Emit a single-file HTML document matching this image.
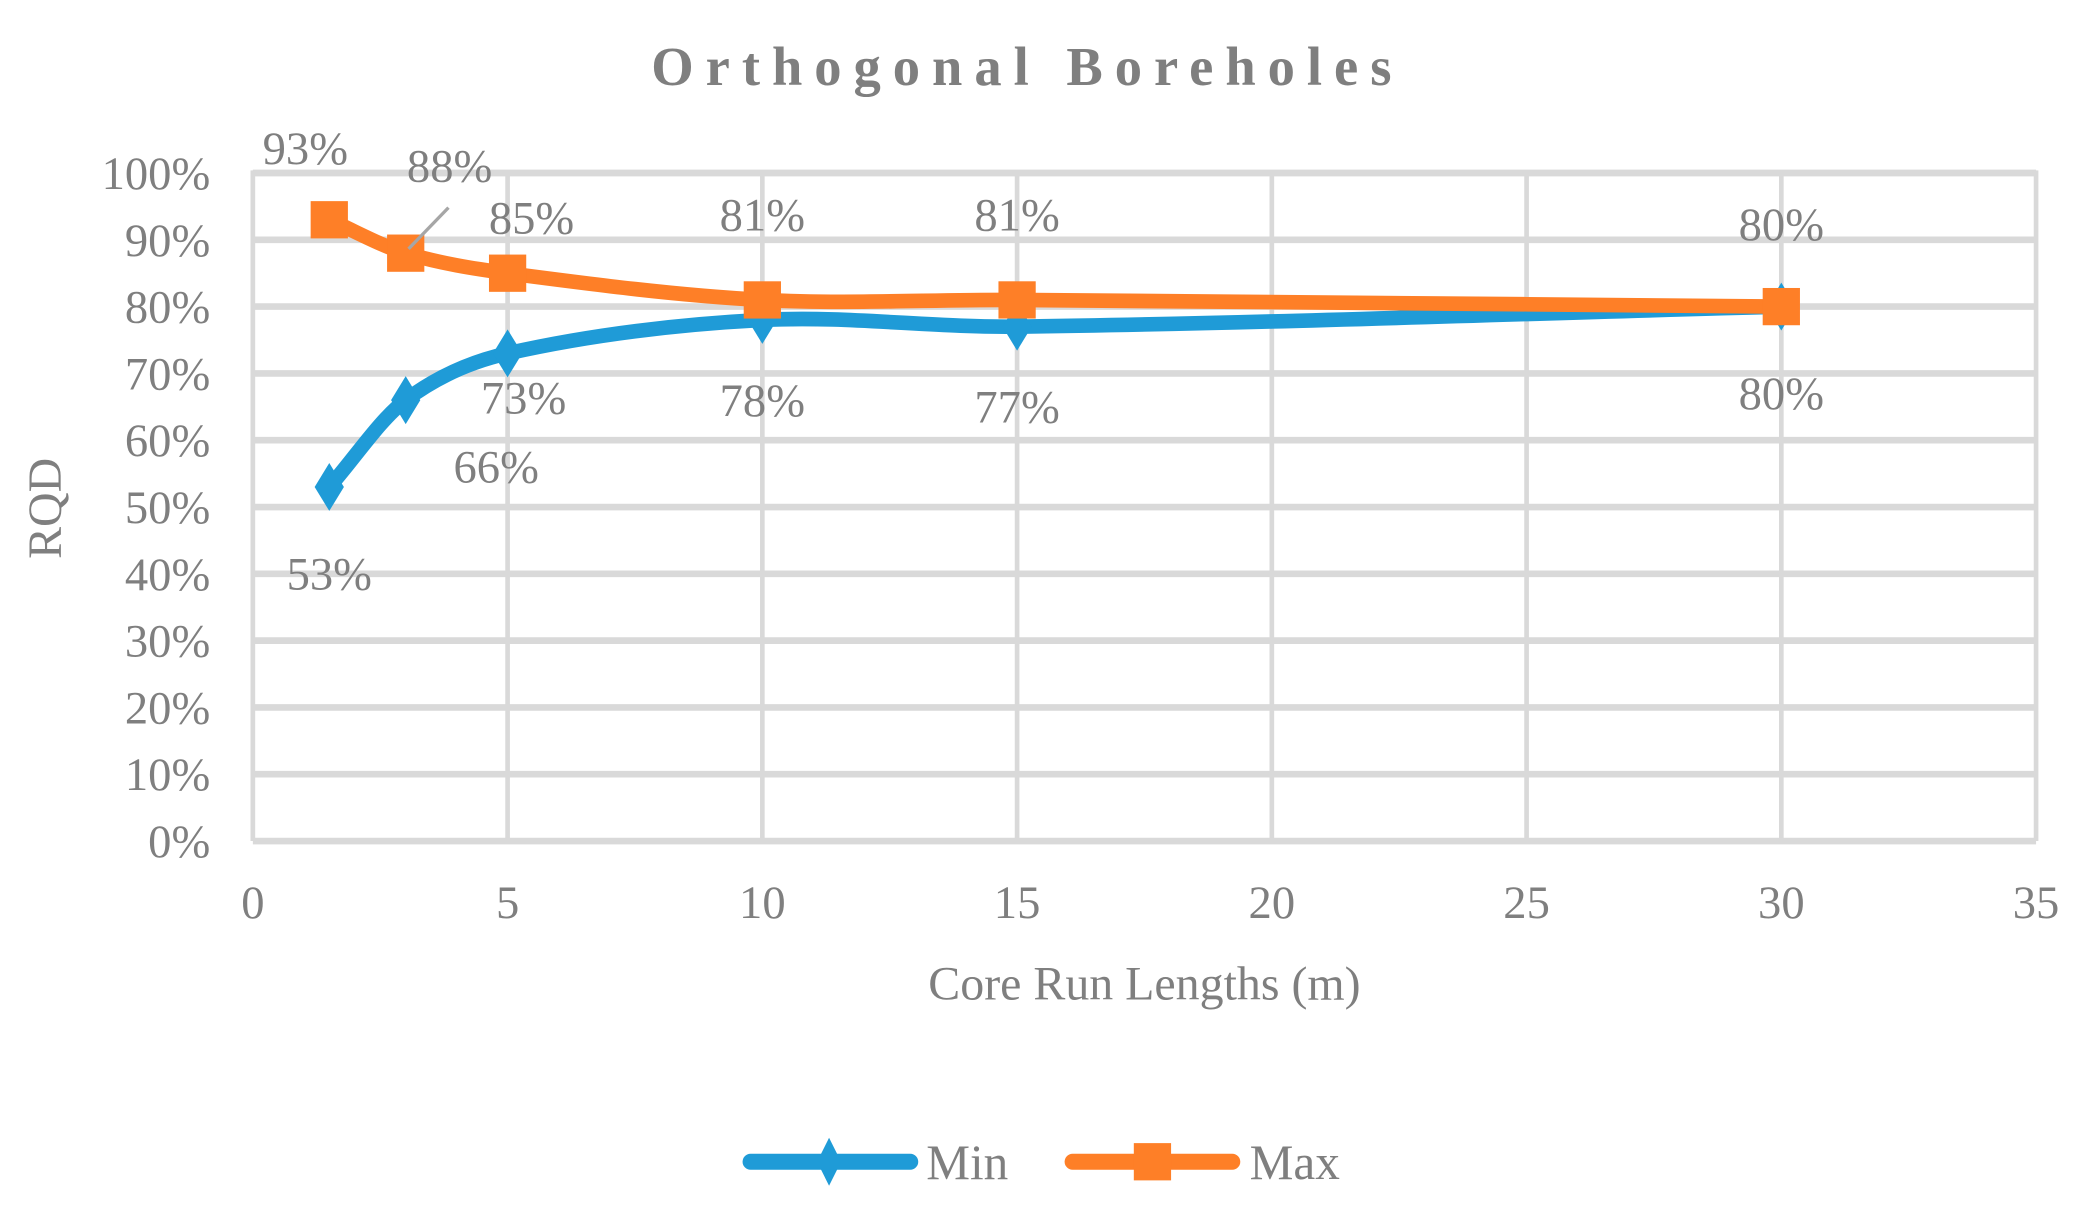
<!DOCTYPE html>
<html><head><meta charset="utf-8"><style>
html,body{margin:0;padding:0;background:#fff;}
svg{display:block;}
text{font-family:"Liberation Serif",serif;fill:#7f7f7f;}
</style></head><body>
<svg id="chart" width="2076" height="1205" viewBox="0 0 1560 905.5" xmlns="http://www.w3.org/2000/svg">
<text x="772" y="64" text-anchor="middle" font-size="41" font-weight="bold" letter-spacing="9">Orthogonal Boreholes</text>
<g id="grid"></g>
<g id="ticks"></g>
<g id="series"></g>
<g id="labels"></g>
<text transform="translate(46,382) rotate(-90)" text-anchor="middle" font-size="36">RQD</text>
<text x="860" y="751" text-anchor="middle" font-size="36">Core Run Lengths (m)</text>
<g>
  <g>
    <line x1="564" y1="873" x2="684" y2="873" stroke="#1f9bd7" stroke-width="12" stroke-linecap="round"/>
    <polygon points="623,855 632,873 623,891 614,873" fill="#1f9bd7"/>
    <text x="696" y="886" font-size="37">Min</text>
  </g>
  <g>
    <line x1="806" y1="873" x2="926" y2="873" stroke="#fe7f27" stroke-width="12" stroke-linecap="round"/>
    <rect x="852" y="859" width="28" height="28" fill="#fe7f27"/>
    <text x="939" y="886" font-size="37">Max</text>
  </g>
</g>
</svg>
<script>
const xValues = [1.5, 3, 5, 10, 15, 30];
const minValues = [53, 66, 73, 78, 77, 80];
const maxValues = [93, 88, 85, 81, 81, 80];
const xTicks = [0, 5, 10, 15, 20, 25, 30, 35];
const yTicks = [0, 10, 20, 30, 40, 50, 60, 70, 80, 90, 100];

const NS = "http://www.w3.org/2000/svg";
const L = 190, R = 1530, T = 130, B = 632;
const xs = v => L + (v / 35) * (R - L);
const ys = v => B - (v / 100) * (B - T);
function mk(tag, attrs, parent) {
  const e = document.createElementNS(NS, tag);
  for (const k in attrs) e.setAttribute(k, attrs[k]);
  parent.appendChild(e);
  return e;
}
const grid = document.getElementById('grid');
const ticks = document.getElementById('ticks');
const series = document.getElementById('series');
const labels = document.getElementById('labels');

xTicks.forEach(t => {
  const l = mk('line', {x1: xs(t), x2: xs(t), y1: T - 2, y2: B, stroke: '#d9d9d9', 'stroke-width': 3.5}, grid);
  
  
  const tx = mk('text', {x: xs(t), y: 690, 'text-anchor': 'middle', 'font-size': 35}, ticks);
  tx.textContent = t;
  
  
});
yTicks.forEach(t => {
  const l = mk('line', {x1: L, x2: R, y1: ys(t), y2: ys(t), stroke: '#d9d9d9', 'stroke-width': 5}, grid);
  
  
  const tx = mk('text', {x: 158, y: ys(t) + 12, 'text-anchor': 'end', 'font-size': 35}, ticks);
  tx.textContent = t + '%';
  
  
});

function smoothPath(pts) {
  let d = 'M' + pts[0][0] + ',' + pts[0][1];
  for (let i = 0; i < pts.length - 1; i++) {
    const p0 = pts[i - 1] || pts[i], p1 = pts[i], p2 = pts[i + 1], p3 = pts[i + 2] || p2;
    const seg = p2[0] - p1[0];
    const s1 = Math.min(seg / (p2[0] - p0[0] || 1), 1) / 3;
    const s2 = Math.min(seg / (p3[0] - p1[0] || 1), 1) / 3;
    const c1 = [p1[0] + (p2[0] - p0[0]) * s1, p1[1] + (p2[1] - p0[1]) * s1];
    const c2 = [p2[0] - (p3[0] - p1[0]) * s2, p2[1] - (p3[1] - p1[1]) * s2];
    d += ' C' + c1 + ' ' + c2 + ' ' + p2;
  }
  return d;
}
function drawSeries(vals, color, name, marker) {
  const pts = xValues.map((x, i) => [xs(x), ys(vals[i])]);
  const p = mk('path', {d: smoothPath(pts), fill: 'none', stroke: color, 'stroke-width': 11, 'stroke-linejoin': 'round', 'stroke-linecap': 'round'}, series);
  
  
  pts.forEach(([x, y]) => {
    let m;
    if (marker === 'square') m = mk('rect', {x: x - 14, y: y - 14, width: 28, height: 28, fill: color}, series);
    else m = mk('polygon', {points: `${x},${y - 18} ${x + 11},${y} ${x},${y + 18} ${x - 11},${y}`, fill: color}, series);
    
    
  });
}
drawSeries(minValues, '#1f9bd7', 'min', 'diamond');
drawSeries(maxValues, '#fe7f27', 'max', 'square');

const ld = mk('line', {x1: 337, y1: 156, x2: 307, y2: 187, stroke: '#a6a6a6', 'stroke-width': 2.5}, labels);



const maxOff = [[-18, -42], [33, -54], [18, -30], [0, -52], [0, -52], [0, -50]];
const minOff = [[0, 77], [68, 62], [12, 45], [0, 72], [0, 72], [0, 77]];
function drawLabels(vals, off, name) {
  vals.forEach((v, i) => {
    const t = mk('text', {x: xs(xValues[i]) + off[i][0], y: ys(v) + off[i][1], 'text-anchor': 'middle', 'font-size': 35}, labels);
    t.textContent = v + '%';
    
    
  });
}
drawLabels(maxValues, maxOff, 'max');
drawLabels(minValues, minOff, 'min');
</script>
</body></html>
